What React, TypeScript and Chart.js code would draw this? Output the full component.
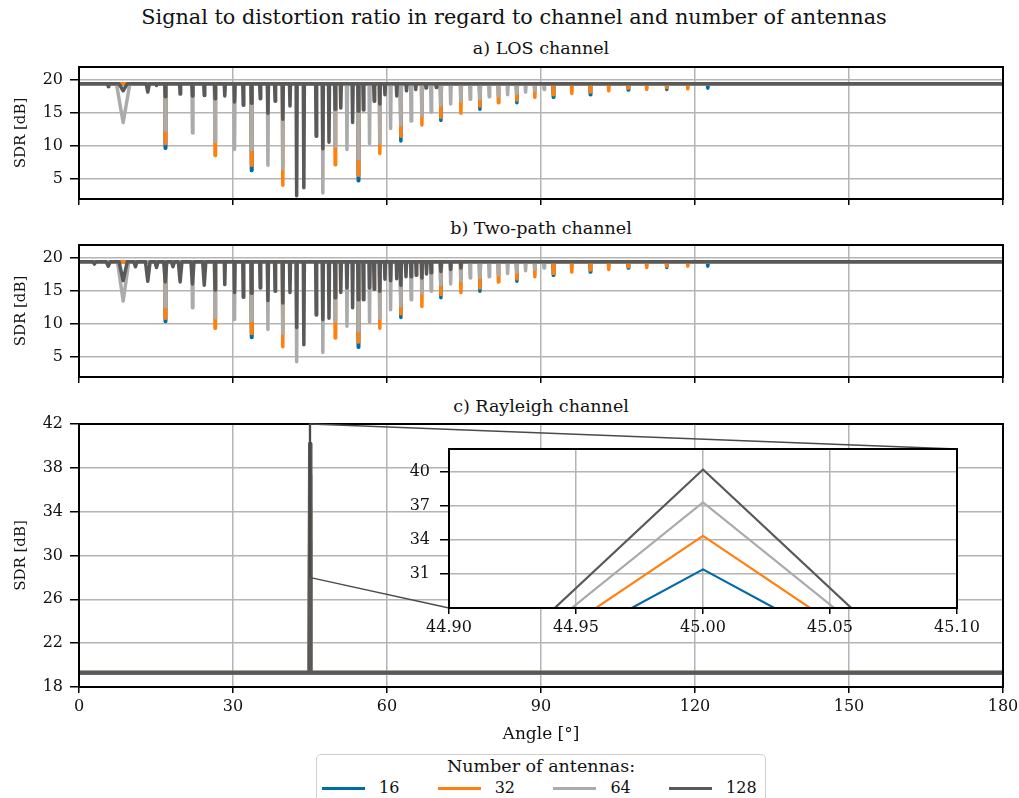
import React, { useEffect, useRef } from 'react';
import { Chart, registerables } from 'chart.js';

Chart.register(...registerables);

const FONT_FAMILY = "'DejaVu Serif', 'Liberation Serif', serif";

// ---------------- data ----------------
type Dip = [number, number, number?]; // [angle °, SDR at the dip/peak dB, half width ° (optional)]

const antennaCounts = ['16', '32', '64', '128'];
const seriesColors = ['#006BA4', '#FF800E', '#ABABAB', '#595959'];

const angleTicks = [0, 30, 60, 90, 120, 150, 180];
const sdrTicksAB = [5, 10, 15, 20];
const sdrTicksC = [18, 22, 26, 30, 34, 38, 42];
const insetAngleTicks = [44.9, 44.95, 45.0, 45.05, 45.1];
const insetSdrTicks = [31, 34, 37, 40];

const angleLimits = [0, 180];
const sdrLimitsAB = [2, 22];
const sdrLimitsC = [18, 42];
const insetAngleLimits = [44.9, 45.1];
const insetSdrLimits = [28, 42];

const angleStep = 0.1; // angular resolution of the sweep

// baseline SDR for 16, 32, 64, 128 antennas
const losBaseline = [19.45, 19.45, 19.45, 19.45];
const twoPathBaseline = [19.45, 19.45, 19.45, 19.45];
const rayleighBaseline = [19.3, 19.3, 19.3, 19.3];

// a) LOS channel
const los16: Dip[] = [[16.8, 9.7], [33.6, 6.3], [54.4, 4.75], [62.7, 10.8], [70.5, 13.9], [78.1, 15.6], [85.3, 16.6], [92.4, 17.4], [99.6, 17.8], [107.0, 18.5], [114.5, 18.6], [122.5, 18.8]];
const los32: Dip[] = [[16.8, 10.4], [26.5, 8.6], [33.6, 7.1], [39.7, 4.1], [49.9, 7.2], [54.4, 5.6], [58.6, 8.9], [62.7, 11.5], [66.8, 13.2], [70.5, 14.4], [74.4, 15.0], [78.1, 16.1], [81.7, 16.6], [85.3, 17.0], [88.8, 17.4], [92.4, 17.8], [96.0, 18.0], [99.6, 18.2], [103.2, 18.4], [107.0, 18.8], [110.6, 18.6], [114.5, 18.9], [118.6, 18.7]];
const los64: Dip[] = [[8.6, 13.6, 1.3], [16.8, 12.4], [22.1, 12.0], [26.5, 10.7], [30.3, 9.5], [33.6, 9.5], [36.8, 7.1], [39.7, 6.6], [47.5, 2.9], [49.9, 10.0], [52.2, 9.5], [54.4, 8.1], [56.6, 10.4], [58.6, 10.5], [60.7, 12.7], [62.7, 13.2], [64.7, 13.8], [66.8, 14.6], [68.6, 15.2], [70.5, 16.2], [72.4, 16.4], [74.4, 16.8], [76.2, 17.1], [78.1, 17.2], [79.9, 17.5], [81.7, 17.6], [83.5, 17.8], [85.3, 18.0], [87.0, 18.2], [88.8, 18.4], [90.6, 18.6]];
const los128: Dip[] = [[5.7, 19.0], [8.6, 18.4, 0.8], [13.4, 18.2, 0.3], [15.1, 19.2], [16.8, 17.5], [19.7, 17.9], [22.1, 17.6], [24.4, 17.7], [26.5, 17.2], [28.4, 17.6], [30.3, 16.7], [32.0, 16.2], [33.6, 16.5], [35.3, 17.2], [36.8, 15.0], [38.2, 16.8], [39.7, 14.1], [41.1, 16.1], [42.4, 2.5], [43.8, 3.7], [46.2, 11.5], [47.5, 9.6], [48.7, 10.6], [49.9, 15.6], [51.0, 15.8], [53.3, 13.6], [54.4, 15.3], [55.4, 15.5], [57.5, 16.8], [58.6, 16.4], [59.6, 17.8], [61.9, 17.6], [63.8, 18.4], [65.6, 18.6], [67.6, 18.8], [69.6, 18.9]];

// b) Two-path channel
const tp16: Dip[] = [[16.8, 10.4], [33.6, 8.0], [54.4, 6.5], [62.7, 11.0], [70.5, 14.0], [78.1, 15.0], [85.3, 16.5], [92.4, 17.4], [99.6, 17.9], [107.0, 18.5], [114.5, 18.6], [122.5, 18.8]];
const tp32: Dip[] = [[16.8, 10.9], [26.5, 9.4], [33.6, 8.6], [39.7, 6.6], [49.9, 7.9], [54.4, 7.3], [58.6, 9.4], [62.7, 11.6], [66.8, 12.7], [70.5, 14.5], [74.4, 14.8], [78.1, 15.5], [81.7, 16.4], [85.3, 16.9], [88.8, 17.2], [92.4, 17.7], [96.0, 17.9], [99.6, 18.2], [103.2, 18.3], [107.0, 18.7], [110.6, 18.6], [114.5, 18.8], [118.6, 18.8]];
const tp64: Dip[] = [[8.6, 13.5, 1.1], [16.8, 12.7], [22.1, 12.5], [26.5, 11.0], [30.3, 10.7], [33.6, 10.6], [36.8, 9.2], [39.7, 8.6], [42.4, 4.3], [47.5, 5.7], [49.9, 10.5], [52.2, 9.7], [54.4, 9.0], [56.6, 10.3], [58.6, 10.9], [60.7, 12.2], [62.7, 12.8], [64.7, 13.7], [66.8, 14.7], [68.6, 15.0], [70.5, 16.0], [72.4, 16.1], [74.4, 16.6], [76.2, 17.0], [78.1, 17.1], [79.9, 17.2], [81.7, 17.5], [83.5, 17.7], [85.3, 17.9], [87.0, 18.1], [88.8, 18.3], [90.6, 18.5]];
const tp128: Dip[] = [[3.0, 19.1, 0.3], [5.7, 18.8, 0.4], [8.6, 16.6, 0.8], [11.0, 18.7, 0.3], [13.4, 16.5, 0.45], [15.1, 18.6, 0.3], [16.8, 16.4, 0.3], [18.3, 18.7, 0.3], [19.7, 16.4, 0.35], [22.1, 16.1, 0.3], [24.4, 15.9, 0.3], [26.5, 15.2], [28.4, 16.0], [30.3, 14.8], [32.0, 14.1], [33.6, 14.7], [35.3, 15.5], [36.8, 13.6], [38.2, 15.0], [39.7, 13.2], [41.1, 14.8], [42.4, 9.5], [43.8, 6.9], [46.2, 11.4], [47.5, 10.7], [48.7, 10.9], [49.9, 14.0], [51.0, 14.8], [52.2, 15.5], [53.3, 12.5], [54.4, 13.7], [55.4, 13.7], [56.6, 15.5], [57.5, 15.3], [58.6, 15.0], [59.6, 16.8], [60.7, 16.6], [61.9, 16.9], [62.7, 15.9], [63.7, 17.2], [64.7, 17.2], [65.7, 17.4], [66.8, 17.0], [67.7, 17.6], [68.6, 17.8], [70.5, 18.0], [72.4, 18.3], [74.4, 18.5]];

// c) Rayleigh channel: single peak at 45°
const rayleighPeakAngle = 45.0;
const rayleighPeakSdr = [31.4, 34.35, 37.3, 40.2];

// ---------------- layout constants ----------------
const PAGE_W = 1019;
const PAGE_H = 798;
const Y_AXIS_W = 79;
const RIGHT_PAD = 16;
const GRID_COLOR = '#b4b4b4';

function buildSeries(base: number, dips: Dip[]) {
  const pts: { x: number; y: number }[] = [{ x: angleLimits[0], y: base }];
  const sorted = [...dips].sort((a, b) => a[0] - b[0]);
  for (const d of sorted) {
    const w = d[2] ?? angleStep;
    pts.push({ x: d[0] - w, y: base }, { x: d[0], y: d[1] }, { x: d[0] + w, y: base });
  }
  pts.push({ x: angleLimits[1], y: base });
  return pts;
}

function makeDatasets(bases: number[], dipSets: Dip[][], lineWidth: number, clip?: number) {
  return dipSets.map((dips, i) => ({
    label: antennaCounts[i],
    data: buildSeries(bases[i], dips),
    borderColor: seriesColors[i],
    backgroundColor: seriesColors[i],
    borderWidth: lineWidth,
    pointRadius: 0,
    tension: 0,
    borderJoinStyle: 'round' as const,
    borderCapStyle: 'round' as const,
    order: dipSets.length - 1 - i,
    ...(clip !== undefined ? { clip } : {}),
  }));
}

const framePlugin = {
  id: 'frame',
  afterDraw(chart: any) {
    const { ctx, chartArea: a } = chart;
    ctx.save();
    ctx.strokeStyle = '#000';
    ctx.lineWidth = 2;
    ctx.strokeRect(a.left, a.top, a.right - a.left, a.bottom - a.top);
    ctx.restore();
  },
};

const whiteAreaPlugin = {
  id: 'whiteArea',
  beforeDraw(chart: any) {
    const { ctx, chartArea: a } = chart;
    ctx.save();
    ctx.fillStyle = '#fff';
    ctx.fillRect(a.left, a.top, a.right - a.left, a.bottom - a.top);
    ctx.restore();
  },
};

interface AxisOpts {
  xLimits: number[];
  xTicks: number[];
  xLabels: boolean;
  xTickFmt?: (v: number) => string;
  xAxisH: number;
  xLabelPad: number;
  xTitle?: string;
  yLimits: number[];
  yTicks: number[];
  yAxisW: number;
  yLabelPad: number;
  yTitle?: string;
}

function zeroPadding(s: any) {
  s.paddingTop = 0;
  s.paddingBottom = 0;
  s.paddingLeft = 0;
  s.paddingRight = 0;
}

function makeScales(o: AxisOpts) {
  return {
    x: {
      type: 'linear' as const,
      min: o.xLimits[0],
      max: o.xLimits[1],
      afterBuildTicks: (s: any) => {
        s.ticks = o.xTicks.map((v) => ({ value: v }));
      },
      afterFit: (s: any) => {
        s.height = o.xAxisH;
        zeroPadding(s);
      },
      ticks: {
        display: o.xLabels,
        padding: o.xLabelPad,
        maxRotation: 0,
        autoSkip: false,
        font: { size: 16, family: FONT_FAMILY },
        color: '#111',
        callback: (v: any) => (o.xTickFmt ? o.xTickFmt(Number(v)) : String(v)),
      },
      grid: {
        color: GRID_COLOR,
        lineWidth: 1.5,
        drawTicks: true,
        tickLength: 6,
        tickColor: '#000',
        tickWidth: 1.5,
      },
      border: { display: true, color: '#000', width: 2 },
      title: o.xTitle
        ? {
            display: true,
            text: o.xTitle,
            font: { size: 17, family: FONT_FAMILY },
            color: '#111',
            padding: { top: 0, bottom: 2 },
          }
        : { display: false },
    },
    y: {
      type: 'linear' as const,
      min: o.yLimits[0],
      max: o.yLimits[1],
      afterBuildTicks: (s: any) => {
        s.ticks = o.yTicks.map((v) => ({ value: v }));
      },
      afterFit: (s: any) => {
        s.width = o.yAxisW;
        zeroPadding(s);
      },
      ticks: {
        padding: o.yLabelPad,
        font: { size: 16, family: FONT_FAMILY },
        color: '#111',
        callback: (v: any) => String(v),
      },
      grid: {
        color: GRID_COLOR,
        lineWidth: 1.5,
        drawTicks: true,
        tickLength: 9,
        tickColor: '#000',
        tickWidth: 1.5,
      },
      border: { display: true, color: '#000', width: 2 },
      title: o.yTitle
        ? {
            display: true,
            text: o.yTitle,
            font: { size: 15, family: FONT_FAMILY },
            color: '#111',
            padding: { top: 12, bottom: 0 },
          }
        : { display: false },
    },
  };
}

function baseOptions(padTop: number, padRight: number, scales: any) {
  return {
    responsive: false,
    maintainAspectRatio: false,
    animation: false as const,
    devicePixelRatio: 1,
    parsing: false as const,
    layout: { autoPadding: false, padding: { top: padTop, right: padRight, bottom: 0, left: 0 } },
    plugins: { legend: { display: false }, tooltip: { enabled: false }, title: { display: false } },
    scales,
  };
}

// canvas placements
const PANEL_A = { left: 0, top: 59, width: PAGE_W, height: 150, padTop: 8, xAxisH: 10 };
const PANEL_B = { left: 0, top: 237, width: PAGE_W, height: 150, padTop: 8, xAxisH: 10 };
const PANEL_C = { left: 0, top: 412, width: PAGE_W, height: 335, padTop: 12, xAxisH: 60 };
const INSET = { left: 380, top: 437, width: 607, height: 206, padTop: 12, padRight: 30, yAxisW: 69, xAxisH: 35 };

const subplotTitles = [
  { text: 'a) LOS channel', y: 49 },
  { text: 'b) Two-path channel', y: 229 },
  { text: 'c) Rayleigh channel', y: 407 },
];

export default function App() {
  const aRef = useRef<HTMLCanvasElement>(null);
  const bRef = useRef<HTMLCanvasElement>(null);
  const cRef = useRef<HTMLCanvasElement>(null);
  const iRef = useRef<HTMLCanvasElement>(null);

  useEffect(() => {
    const charts: Chart[] = [];

    // inset first so the zoom-connector plugin can read its area
    const rayleighDips: Dip[][] = rayleighPeakSdr.map((p) => [[rayleighPeakAngle, p]]);
    const inset = new Chart(iRef.current as HTMLCanvasElement, {
      type: 'line',
      data: { datasets: makeDatasets(rayleighBaseline, rayleighDips, 2.2, 0) as any },
      options: baseOptions(
        INSET.padTop,
        INSET.padRight,
        makeScales({
          xLimits: insetAngleLimits,
          xTicks: insetAngleTicks,
          xLabels: true,
          xTickFmt: (v) => v.toFixed(2),
          xAxisH: INSET.xAxisH,
          xLabelPad: 4,
          yLimits: insetSdrLimits,
          yTicks: insetSdrTicks,
          yAxisW: INSET.yAxisW,
          yLabelPad: 10,
        })
      ) as any,
      plugins: [whiteAreaPlugin, framePlugin],
    });
    charts.push(inset);

    const zoomPlugin = {
      id: 'zoomMark',
      afterDraw(chart: any) {
        const ia = inset.chartArea;
        const dx = INSET.left - PANEL_C.left;
        const dy = INSET.top - PANEL_C.top;
        const xs = chart.scales.x;
        const ys = chart.scales.y;
        const x0 = xs.getPixelForValue(insetAngleLimits[0]);
        const x1 = xs.getPixelForValue(insetAngleLimits[1]);
        const y0 = ys.getPixelForValue(insetSdrLimits[0]);
        const y1 = ys.getPixelForValue(insetSdrLimits[1]);
        const ctx = chart.ctx;
        ctx.save();
        ctx.strokeStyle = '#4a4a4a';
        ctx.lineWidth = 1.3;
        ctx.strokeRect(x0, y1, x1 - x0, y0 - y1);
        ctx.beginPath();
        ctx.moveTo(x1, y1);
        ctx.lineTo(ia.right + dx, ia.top + dy);
        ctx.moveTo(x0, y0);
        ctx.lineTo(ia.left + dx, ia.bottom + dy);
        ctx.stroke();
        ctx.restore();
      },
    };

    const panels = [
      { ref: aRef, p: PANEL_A, bases: losBaseline, dips: [los16, los32, los64, los128] },
      { ref: bRef, p: PANEL_B, bases: twoPathBaseline, dips: [tp16, tp32, tp64, tp128] },
    ];
    for (const pn of panels) {
      charts.push(
        new Chart(pn.ref.current as HTMLCanvasElement, {
          type: 'line',
          data: { datasets: makeDatasets(pn.bases, pn.dips, 3.5) as any },
          options: baseOptions(
            pn.p.padTop,
            RIGHT_PAD,
            makeScales({
              xLimits: angleLimits,
              xTicks: angleTicks,
              xLabels: false,
              xAxisH: pn.p.xAxisH,
              xLabelPad: 3,
              yLimits: sdrLimitsAB,
              yTicks: sdrTicksAB,
              yAxisW: Y_AXIS_W,
              yLabelPad: 7,
              yTitle: 'SDR [dB]',
            })
          ) as any,
          plugins: [framePlugin],
        })
      );
    }

    charts.push(
      new Chart(cRef.current as HTMLCanvasElement, {
        type: 'line',
        data: { datasets: makeDatasets(rayleighBaseline, rayleighDips, 4) as any },
        options: baseOptions(
          PANEL_C.padTop,
          RIGHT_PAD,
          makeScales({
            xLimits: angleLimits,
            xTicks: angleTicks,
            xLabels: true,
            xAxisH: PANEL_C.xAxisH,
            xLabelPad: 4,
            xTitle: 'Angle [°]',
            yLimits: sdrLimitsC,
            yTicks: sdrTicksC,
            yAxisW: Y_AXIS_W,
            yLabelPad: 7,
            yTitle: 'SDR [dB]',
          })
        ) as any,
        plugins: [framePlugin, zoomPlugin],
      })
    );

    return () => {
      charts.forEach((c) => c.destroy());
    };
  }, []);

  const canvasStyle = (p: { left: number; top: number; width: number; height: number }): React.CSSProperties => ({
    position: 'absolute',
    left: p.left,
    top: p.top,
    width: p.width,
    height: p.height,
  });

  const textStyle = (cx: number, cy: number, size: number): React.CSSProperties => ({
    position: 'absolute',
    left: cx,
    top: cy,
    transform: 'translate(-50%, -50%)',
    fontSize: size,
    whiteSpace: 'nowrap',
    lineHeight: 1,
    color: '#111',
  });

  const legendLeft = 322;
  const legendSpacing = 115.7;

  return (
    <div
      style={{
        position: 'absolute',
        left: 0,
        top: 0,
        width: PAGE_W,
        height: PAGE_H,
        overflow: 'hidden',
        background: '#fff',
        fontFamily: FONT_FAMILY,
      }}
    >
      <div style={textStyle(514, 17, 20.8)}>
        Signal to distortion ratio in regard to channel and number of antennas
      </div>
      {subplotTitles.map((t) => (
        <div key={t.text} style={textStyle(541, t.y, 17.5)}>
          {t.text}
        </div>
      ))}
      <canvas ref={aRef} width={PANEL_A.width} height={PANEL_A.height} style={canvasStyle(PANEL_A)} />
      <canvas ref={bRef} width={PANEL_B.width} height={PANEL_B.height} style={canvasStyle(PANEL_B)} />
      <canvas ref={cRef} width={PANEL_C.width} height={PANEL_C.height} style={canvasStyle(PANEL_C)} />
      <canvas ref={iRef} width={INSET.width} height={INSET.height} style={canvasStyle(INSET)} />

      <div
        style={{
          position: 'absolute',
          left: 316,
          top: 754,
          width: 450,
          height: 70,
          border: '1.5px solid #d0d0d0',
          borderRadius: 5,
          background: '#fff',
          boxSizing: 'border-box',
        }}
      />
      <div style={textStyle(541, 767, 17.5)}>Number of antennas:</div>
      {antennaCounts.map((lab, i) => (
        <React.Fragment key={lab}>
          <div
            style={{
              position: 'absolute',
              left: legendLeft + i * legendSpacing,
              top: 786.5,
              width: 43,
              height: 3,
              background: seriesColors[i],
            }}
          />
          <div
            style={{
              position: 'absolute',
              left: legendLeft + i * legendSpacing + 57,
              top: 788,
              transform: 'translateY(-50%)',
              fontSize: 16,
              lineHeight: 1,
              color: '#111',
              whiteSpace: 'nowrap',
            }}
          >
            {lab}
          </div>
        </React.Fragment>
      ))}
    </div>
  );
}
